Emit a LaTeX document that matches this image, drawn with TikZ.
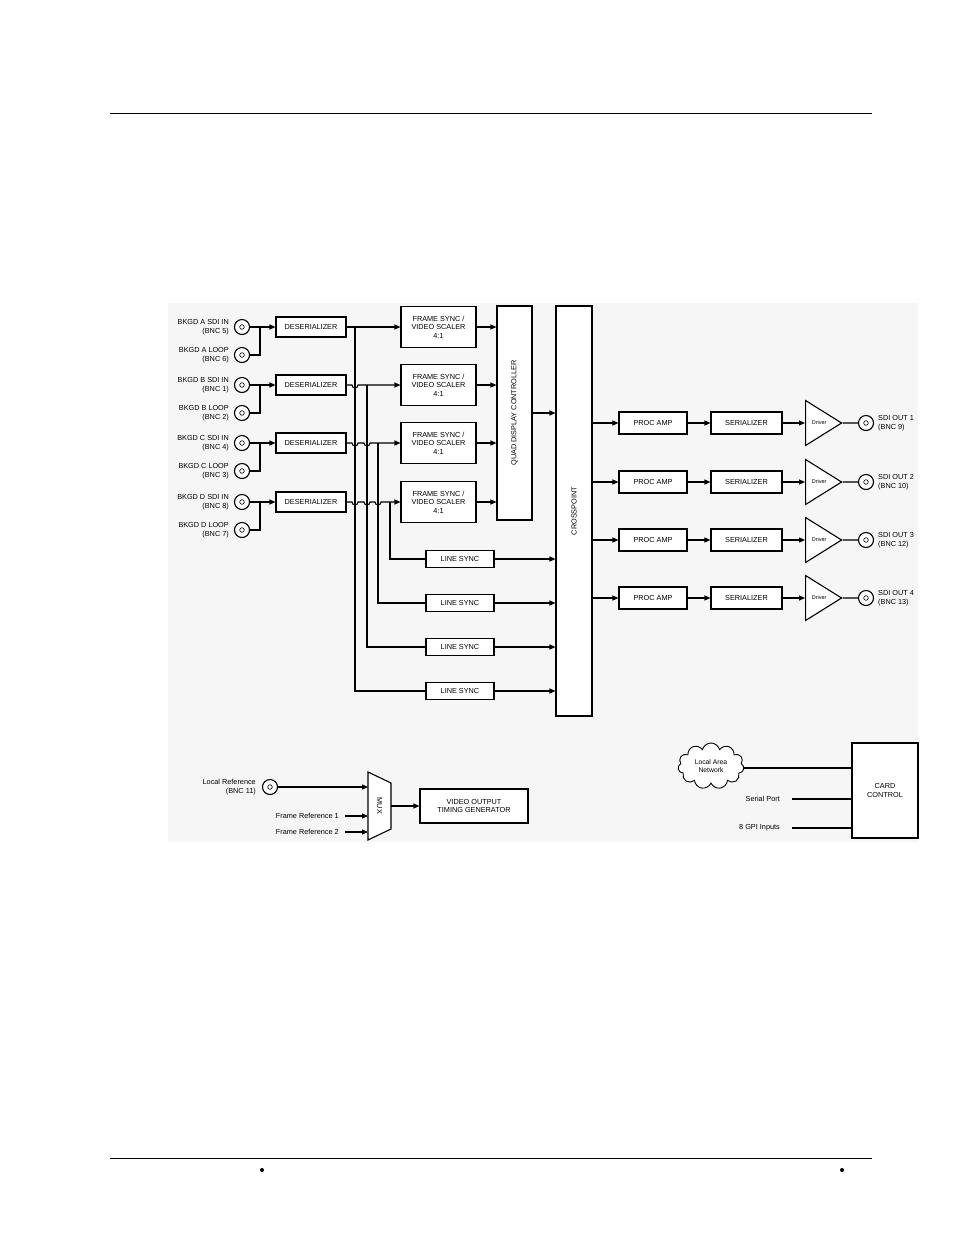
\documentclass[tikz,border=0pt]{standalone}
\usepackage{fontspec}
\setmainfont{Liberation Sans}
\usetikzlibrary{shapes.geometric,shapes.symbols,arrows.meta}
\begin{document}
\begin{tikzpicture}[x=1pt,y=-1pt,
  every node/.style={font=\fontsize{7.3}{8.6}\selectfont,inner sep=0pt},
  blk/.style={draw,line width=1.1pt,fill=white,minimum height=20pt,minimum width=70pt,align=center},
  bnc/.style={draw,circle,line width=1.1pt,fill=white,minimum size=15pt,
    path picture={\draw[line width=0.6pt] (path picture bounding box.center) circle[radius=2.3pt];}},
  ln/.style={line width=1.1pt},
  ar/.style={line width=1.1pt,-{Triangle[length=6pt,width=5pt]}},
  lab/.style={anchor=east,align=right}]
\useasboundingbox (0,0) rectangle (954,1235);
\fill[white] (0,0) rectangle (954,1235);
\fill[gray!7] (168,303) rectangle (918,842);
\draw[line width=0.8pt] (110,113) -- (872,113);
\draw[line width=0.8pt] (110,1158) -- (872,1158);
\fill (262,1170) circle[radius=2pt];
\fill (842,1170) circle[radius=2pt];
% inputs
\foreach \n/\L/\yi/\yl/\bi/\bl in {A/A/327/355/5/6, B/B/385/413/1/2, C/C/443/471/4/3, D/D/502/530/8/7}{
  \node[bnc] (in\n) at (242,\yi) {};
  \node[bnc] (lp\n) at (242,\yl) {};
  \node[lab] (tin\n) at (229,\yi) {BKGD \L\ SDI IN\\(BNC \bi)};
  \node[lab] (tlp\n) at (229,\yl) {BKGD \L\ LOOP\\(BNC \bl)};
  \node[blk] (des\n) at (311,\yi) {DESERIALIZER};
  \node[blk,minimum width=75pt,minimum height=41pt] (fs\n) at (438.5,\yi) {FRAME SYNC /\\VIDEO SCALER\\4:1};
  \draw[ar] (in\n) -- (des\n);
  \draw[ln] (lp\n.east) -| (260,\yi);
}
\node[draw,line width=1.1pt,fill=white,minimum width=35pt,minimum height=214pt] (qdc) at (514.5,413) {};
\node[rotate=90] (qdct) at (qdc) {QUAD DISPLAY CONTROLLER};
\node[draw,line width=1.1pt,fill=white,minimum width=36pt,minimum height=410pt] (cp) at (574,511) {};
\node[rotate=90] (cpt) at (574,511) {CROSSPOINT};
% deserializer to frame sync with hops
\draw[ar] (desA.east) -- (fsA.west);
\draw[ar] (desB.east) -- (352,385) arc[start angle=180,end angle=0,radius=3] -- (fsB.west);
\draw[ar] (desC.east) -- (352,443) arc[start angle=180,end angle=0,radius=3] -- (364,443) arc[start angle=180,end angle=0,radius=3] -- (fsC.west);
\draw[ar] (desD.east) -- (352,502) arc[start angle=180,end angle=0,radius=3] -- (364,502) arc[start angle=180,end angle=0,radius=3] -- (375,502) arc[start angle=180,end angle=0,radius=3] -- (fsD.west);
\foreach \n in {A,B,C,D}{ \draw[ar] (fs\n.east) -- (fs\n.east -| qdc.west); }
\draw[ar] (qdc.east |- 0,413) -- (cp.west |- 0,413);
% line syncs
\foreach \i/\y/\x/\src in {1/559/390/D,2/603/378/C,3/647/367/B,4/691/355/A}{
  \node[blk,minimum width=68pt,minimum height=17pt] (ls\i) at (460,\y) {LINE SYNC};
  \draw[ln] (des\src.east -| \x,0) -- (\x,\y) -- (ls\i.west);
  \draw[ar] (ls\i.east) -- (cp.west |- ls\i.east);
}
% outputs
\foreach \i/\y/\b in {1/423/9,2/482/10,3/540/12,4/598/13}{
  \node[blk,minimum width=68pt,minimum height=22pt] (pa\i) at (653,\y) {PROC AMP};
  \node[blk,minimum width=71pt,minimum height=22pt] (se\i) at (746.5,\y) {SERIALIZER};
  \node[draw,line width=1.1pt,fill=white,isosceles triangle,isosceles triangle apex angle=64,minimum height=36pt,inner sep=0pt,anchor=west,font=\fontsize{5.5}{6}\selectfont] (dr\i) at (805,\y) {Driver\hspace{6pt}};
  \node[bnc] (out\i) at (866,\y) {};
  \node[anchor=west,align=left] (tout\i) at (878,\y) {SDI OUT \i\\(BNC \b)};
  \draw[ar] (cp.east |- pa\i.west) -- (pa\i.west);
  \draw[ar] (pa\i) -- (se\i);
  \draw[ar] (se\i.east) -- (dr\i.west);
  \draw[ln] (dr\i.apex) -- (out\i);
}
% reference section
\node[bnc] (lref) at (270,787) {};
\node[lab] (tlref) at (256,787) {Local Reference\\(BNC 11)};
\draw[line width=1.1pt,fill=white] (368,772) -- (391,783) -- (391,829) -- (368,840) -- cycle;
\node[rotate=-90] (muxt) at (379.5,806) {MUX};
\coordinate (fr1) at (345,816);
\coordinate (fr2) at (345,832);
\node[anchor=east] (tfr1) at (339,816) {Frame Reference 1};
\node[anchor=east] (tfr2) at (339,832) {Frame Reference 2};
\draw[ar] (lref) -- (368,787);
\draw[ar] (fr1) -- (368,816);
\draw[ar] (fr2) -- (368,832);
\node[blk,minimum width=108pt,minimum height=34pt] (vot) at (474,806) {VIDEO OUTPUT\\TIMING GENERATOR};
\draw[ar] (391,806) -- (vot.west);
% card control
\node[draw,line width=1.1pt,fill=white,minimum width=66pt,minimum height=95pt,align=center] (cc) at (885,790.5) {CARD\\CONTROL};
\node[draw,line width=0.9pt,fill=white,cloud,cloud puffs=11,aspect=1.5,minimum width=66pt,minimum height=46pt,align=center,font=\fontsize{6.8}{7.8}\selectfont] (lan) at (711,766) {Local Area\\Network};
\draw[ln] (lan.east |- 0,768) -- (cc.west |- 0,768);
\node[anchor=east] (tsp) at (780,799) {Serial Port};
\node[anchor=east] (tgpi) at (780,828) {8 GPI Inputs};
\draw[ln] (792,799) -- (cc.west |- 0,799);
\draw[ln] (792,828) -- (cc.west |- 0,828);
\end{tikzpicture}
\end{document}
